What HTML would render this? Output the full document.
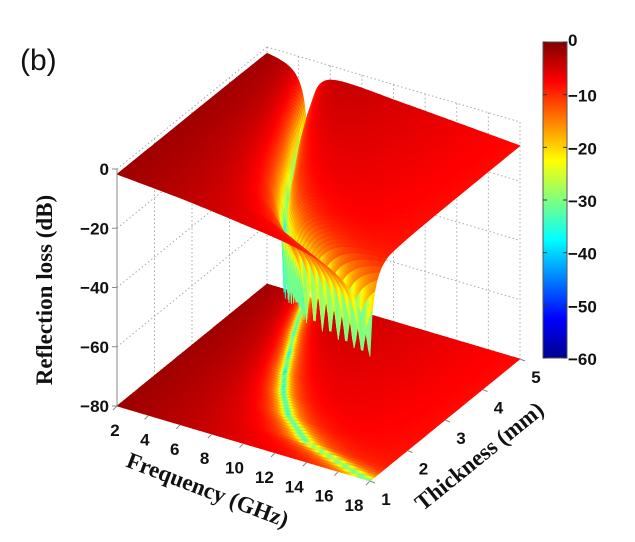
<!DOCTYPE html>
<html><head><meta charset="utf-8"><style>
html,body{margin:0;padding:0;background:#fff;}
svg{display:block;}
.tk{font-family:"Liberation Sans",Arial,sans-serif;font-weight:bold;font-size:17px;fill:#111;}
.ttl{font-family:"Liberation Serif","Times New Roman",serif;font-weight:bold;font-size:23px;fill:#111;}
</style></head><body>
<svg id="chart" width="635" height="542" viewBox="0 0 635 542">
<defs>
<linearGradient id="jetgrad" x1="0" y1="1" x2="0" y2="0">
<stop offset="0" stop-color="#00008f"/><stop offset="0.125" stop-color="#0000ff"/>
<stop offset="0.375" stop-color="#00ffff"/><stop offset="0.625" stop-color="#ffff00"/>
<stop offset="0.875" stop-color="#ff0000"/><stop offset="1" stop-color="#800000"/>
</linearGradient>
</defs>
<text x="20" y="70" font-family="Liberation Sans,Arial,sans-serif" font-size="30" fill="#111">(b)</text>
<g id="walls"></g>
<g id="floor"></g>
<g id="surf"></g>
<g id="axes"></g>
<rect x="543" y="42" width="24" height="316" fill="url(#jetgrad)" stroke="#555" stroke-width="1"/>
<g id="cb"></g>
<text class="ttl" transform="translate(52,290) rotate(-90)" text-anchor="middle">Reflection loss (dB)</text>
<text class="ttl" transform="translate(205,497) rotate(21)" text-anchor="middle">Frequency (GHz)</text>
<text class="ttl" transform="translate(484,462) rotate(-39)" text-anchor="middle">Thickness (mm)</text>
</svg>
<script>
const freqTicks=[2,4,6,8,10,12,14,16,18];
const thickTicks=[1,2,3,4,5];
const zTicks=[0,-20,-40,-60,-80];
const cbTicks=[0,-10,-20,-30,-40,-50,-60];
const thickness=[1,1.5,2,2.5,3,3.5,4,4.5,5];
const matchFreq=[18,12.8,10.5,9.0,7.9,7.0,6.1,5.3,4.6];
const minRL=[-38,-40,-42,-46,-55,-50,-44,-40,-36];
const baseFreq=[2,6,10,14,18];
const baseRL=[-1.5,-3,-5,-6.5,-8];

const NS='http://www.w3.org/2000/svg';
const F0=2,F1=18,T0=1,T1=5,Z0=0,Z1=-80;
function P(f,t,z){const a=(f-F0)/(F1-F0),b=(t-T0)/(T1-T0);
 return [117+253*a+150*b,169+75*a-122*b+(-z)*237/80];}
function depth(f,t){const a=(f-F0)/(F1-F0),b=(t-T0)/(T1-T0);return 150*a-253*b;}
function interp(xs,ys,x){if(x<=xs[0])return ys[0];for(let i=1;i<xs.length;i++){if(x<=xs[i]){const r=(x-xs[i-1])/(xs[i]-xs[i-1]);return ys[i-1]+r*(ys[i]-ys[i-1]);}}return ys[ys.length-1];}
function RL(f,t){
 const fm=interp(thickness,matchFreq,t),mn=interp(thickness,minRL,t);
 const bdb=interp(baseFreq,baseRL,f);const base=Math.pow(10,bdb/10);
 let r0=Math.pow(10,mn/10)/base; if(r0>1)r0=1;
 const w=0.22*fm; const x=(f-fm)/w;
 const g=base*(r0+x*x)/(1+x*x);
 return Math.max(-80,10*Math.log10(g));}
function cl(v){return Math.max(0,Math.min(1,v));}
function jet(db){const v=cl((db+60)/60);
 const r=cl(1.5-Math.abs(4*v-3)),g=cl(1.5-Math.abs(4*v-2)),b=cl(1.5-Math.abs(4*v-1));
 return 'rgb('+Math.round(r*255)+','+Math.round(g*255)+','+Math.round(b*255)+')';}
function poly(parent,pts,fill,name){const p=document.createElementNS(NS,'polygon');
 p.setAttribute('points',pts.map(q=>q[0].toFixed(1)+','+q[1].toFixed(1)).join(' '));
 p.setAttribute('fill',fill);p.setAttribute('stroke',fill);p.setAttribute('stroke-width','0.6');
 
 
 parent.appendChild(p);}
function line(parent,p1,p2,stroke,dash,name){const l=document.createElementNS(NS,'line');
 l.setAttribute('x1',p1[0]);l.setAttribute('y1',p1[1]);l.setAttribute('x2',p2[0]);l.setAttribute('y2',p2[1]);
 l.setAttribute('stroke',stroke);l.setAttribute('stroke-width','1');if(dash)l.setAttribute('stroke-dasharray',dash);
 
 
 parent.appendChild(l);}
function text(parent,x,y,s,anchor,cls,name){const t=document.createElementNS(NS,'text');
 t.setAttribute('x',x);t.setAttribute('y',y);t.setAttribute('text-anchor',anchor);t.setAttribute('class',cls);t.textContent=s;
 
 
 parent.appendChild(t);}

const walls=document.getElementById('walls');
const gc='#aaa',gd='1.5,2.5';
thickTicks.forEach(t=>{line(walls,P(F0,t,Z0),P(F0,t,Z1),gc,gd,'grid-line');});
freqTicks.forEach(f=>{line(walls,P(f,T1,Z0),P(f,T1,Z1),gc,gd,'grid-line');});
zTicks.forEach(z=>{line(walls,P(F0,T0,z),P(F0,T1,z),gc,gd,'grid-line');line(walls,P(F0,T1,z),P(F1,T1,z),gc,gd,'grid-line');});
line(walls,P(F1,T1,Z0),P(F1,T1,Z1),gc,gd,'grid-line');

const NF=160,NT=64;const fs=[],ts=[];
for(let i=0;i<=NF;i++)fs.push(F0+(F1-F0)*i/NF);
for(let j=0;j<=NT;j++)ts.push(T0+(T1-T0)*j/NT);
const Z=fs.map(f=>ts.map(t=>RL(f,t)));

const floor=document.getElementById('floor');
for(let i=0;i<NF;i++)for(let j=0;j<NT;j++){
 const c=(Z[i][j]+Z[i+1][j]+Z[i][j+1]+Z[i+1][j+1])/4;
 poly(floor,[P(fs[i],ts[j],Z1),P(fs[i+1],ts[j],Z1),P(fs[i+1],ts[j+1],Z1),P(fs[i],ts[j+1],Z1)],jet(c),'floor-cell');}

const surf=document.getElementById('surf');const quads=[];
for(let i=0;i<NF;i++)for(let j=0;j<NT;j++){
 quads.push({i,j,d:depth((fs[i]+fs[i+1])/2,(ts[j]+ts[j+1])/2)});}
quads.sort((a,b)=>a.d-b.d);
quads.forEach(q=>{const i=q.i,j=q.j;
 const c=(Z[i][j]+Z[i+1][j]+Z[i][j+1]+Z[i+1][j+1])/4;
 poly(surf,[P(fs[i],ts[j],Z[i][j]),P(fs[i+1],ts[j],Z[i+1][j]),P(fs[i+1],ts[j+1],Z[i+1][j+1]),P(fs[i],ts[j+1],Z[i][j+1])],jet(c),'surface-cell');});

const ax=document.getElementById('axes');
line(ax,P(F0,T0,Z0),P(F0,T0,Z1),'#888',null,'z-axis-line');
zTicks.forEach(z=>{const p=P(F0,T0,z);line(ax,[p[0]-5,p[1]],p,'#888',null,'z-tick');
 text(ax,p[0]-8,p[1]+6,(z<0?'\u2212':'')+Math.abs(z),'end','tk','z-tick-label');});
freqTicks.forEach(f=>{const p=P(f,T0,Z1);line(ax,p,[p[0]-4,p[1]+4],'#888',null,'x-tick');
 const a=(f-F0)/(F1-F0);text(ax,p[0]-2-14*a,p[1]+30,String(f),'middle','tk','x-tick-label');});
thickTicks.forEach(t=>{const p=P(F1,t,Z1);line(ax,p,[p[0]+5,p[1]+2],'#888',null,'y-tick');
 text(ax,p[0]+16,p[1]+24,String(t),'middle','tk','y-tick-label');});
const cb=document.getElementById('cb');
cbTicks.forEach(v=>{const y=42+316*(-v)/60;
 line(cb,[543,y],[547,y],'#333',null,'colorbar-tick');line(cb,[563,y],[567,y],'#333',null,'colorbar-tick');
 text(cb,568,y+(v===0?4:7),(v<0?'\u2212':'')+Math.abs(v),'start','tk','colorbar-tick-label');});
</script>
</body></html>
